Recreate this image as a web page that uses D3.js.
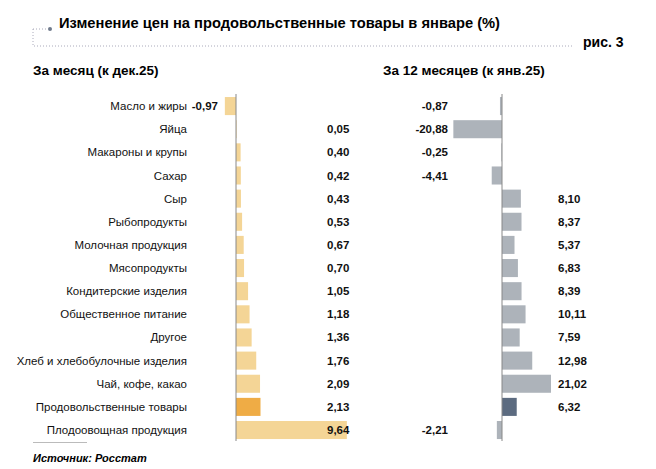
<!DOCTYPE html>
<html>
<head>
<meta charset="utf-8">
<script src="https://cdn.jsdelivr.net/npm/d3@7"></script>
<style>
  body { margin: 0; background: #fff; }
  svg { font-family: "Liberation Sans", Arial, sans-serif; }
</style>
</head>
<body>
<svg id="chart" width="656" height="469"></svg>
<script>
const categories = [
  'Масло и жиры', 'Яйца', 'Макароны и крупы', 'Сахар', 'Сыр', 'Рыбопродукты',
  'Молочная продукция', 'Мясопродукты', 'Кондитерские изделия', 'Общественное питание',
  'Другое', 'Хлеб и хлебобулочные изделия', 'Чай, кофе, какао',
  'Продовольственные товары', 'Плодоовощная продукция'
]
const monthValues = [-0.97, 0.05, 0.40, 0.42, 0.43, 0.53, 0.67, 0.70, 1.05, 1.18, 1.36, 1.76, 2.09, 2.13, 9.64]
const yearValues = [-0.87, -20.88, -0.25, -4.41, 8.10, 8.37, 5.37, 6.83, 8.39, 10.11, 7.59, 12.98, 21.02, 6.32, -2.21]
const highlight = 'Продовольственные товары'

const fmt = v => v.toFixed(2).replace('.', ',')

const svg = d3.select('#chart')

// title block //
svg.append('text')
  .attr('x', 59).attr('y', 28)
  .attr('font-size', 14.5).attr('font-weight', 'bold')
  .attr('textLength', 441).attr('lengthAdjust', 'spacingAndGlyphs')
  .text('Изменение цен на продовольственные товары в январе (%)')

svg.append('path')
  .attr('d', 'M33,29 L48,29 M33,29 L33,46 L572,46')
  .attr('fill', 'none')
  .attr('stroke', '#aab')
  .attr('stroke-width', 1)
  .attr('stroke-dasharray', '1,2')
svg.append('circle').attr('cx', 50).attr('cy', 29).attr('r', 2).attr('fill', '#6f7a8c')

svg.append('text')
  .attr('x', 583).attr('y', 47)
  .attr('font-size', 14).attr('font-weight', 'bold')
  .text('рис. 3')

svg.append('text')
  .attr('x', 33).attr('y', 75)
  .attr('font-size', 13.5).attr('font-weight', 'bold')
  .text('За месяц (к дек.25)')

svg.append('text')
  .attr('x', 383).attr('y', 75)
  .attr('font-size', 13.5).attr('font-weight', 'bold')
  .text('За 12 месяцев (к янв.25)')

// scales //
const yScale = d3.scaleBand()
  .domain(categories)
  .range([94.5, 441.6])
  .paddingInner(0.22)
  .paddingOuter(0.11)

const xMonth = d3.scaleLinear().domain([0, 10]).range([236, 351])
const xYear = d3.scaleLinear().domain([0, 20]).range([502, 548.6])

// category labels //
svg.append('g')
  .selectAll('text')
  .data(categories)
  .join('text')
  .attr('x', 187)
  .attr('y', d => yScale(d) + yScale.bandwidth() / 2)
  .attr('dy', '0.35em')
  .attr('text-anchor', 'end')
  .attr('font-size', 11.5)
  .attr('fill', '#111')
  .text(d => d)

/**
 * draws one bar panel
 */
function drawPanel(values, xScale, color, hiColor, negX, posX) {
  const data = categories.map((c, i) => ({ cat: c, value: values[i] }))
  const g = svg.append('g')

  g.selectAll('rect')
    .data(data)
    .join('rect')
    .attr('x', d => xScale(Math.min(0, d.value)))
    .attr('y', d => yScale(d.cat))
    .attr('width', d => Math.abs(xScale(d.value) - xScale(0)))
    .attr('height', yScale.bandwidth())
    .attr('fill', d => d.cat === highlight ? hiColor : color)

  g.append('line')
    .attr('x1', xScale(0)).attr('x2', xScale(0))
    .attr('y1', 94).attr('y2', 441)
    .attr('stroke', '#888').attr('stroke-width', 1)

  g.selectAll('text')
    .data(data)
    .join('text')
    .attr('x', d => d.value < 0 ? negX : posX)
    .attr('y', d => yScale(d.cat) + yScale.bandwidth() / 2)
    .attr('dy', '0.35em')
    .attr('text-anchor', d => d.value < 0 ? 'end' : 'start')
    .attr('font-size', 11.5)
    .attr('font-weight', 'bold')
    .attr('fill', '#111')
    .text(d => fmt(d.value))
}

drawPanel(monthValues, xMonth, '#f4d596', '#efac45', 218, 327)
drawPanel(yearValues, xYear, '#adb3ba', '#5c6b80', 448, 558)

// source //
svg.append('line')
  .attr('x1', 33).attr('x2', 87)
  .attr('y1', 442.5).attr('y2', 442.5)
  .attr('stroke', '#bbb').attr('stroke-width', 1)

svg.append('text')
  .attr('x', 33).attr('y', 462)
  .attr('font-size', 11)
  .attr('font-weight', 'bold')
  .attr('font-style', 'italic')
  .text('Источник: Росстат')
</script>
</body>
</html>
